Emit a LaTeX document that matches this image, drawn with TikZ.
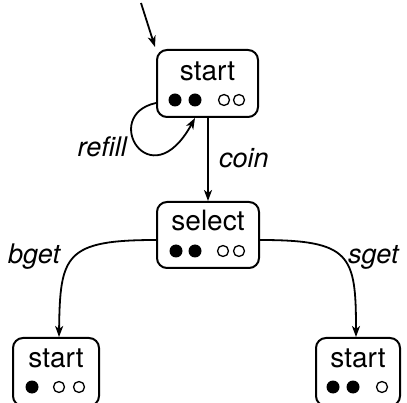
\documentclass[tikz,border=0pt]{standalone}
\usepackage{fontspec}
\setmainfont{TeX Gyre Heros}
\usetikzlibrary{arrows.meta}
\tikzset{
  statebox/.style={draw, line width=2pt, rounded corners=10pt, inner sep=0pt},
  statename/.style={inner sep=0pt, font=\fontsize{28}{30}\selectfont},
  edgelabel/.style={inner sep=0pt, font=\fontsize{27}{30}\selectfont\itshape},
  trans/.style={line width=1.8pt, -{Stealth[length=11pt,width=8pt,inset=3pt]}},
  full/.style={fill=black},
  empty/.style={draw=black, line width=1.3pt},
}
\begin{document}
\begin{tikzpicture}[x=1pt,y=-1pt]
\useasboundingbox (0,0) rectangle (407,403);

% states
\node[statebox, minimum width=101pt, minimum height=67pt] (s0) at (207.5,83.5) {};
\node[statename] (s0t) at (207.5,71) {start};
\node[statebox, minimum width=102pt, minimum height=66pt] (s1) at (208,235) {};
\node[statename] (s1t) at (208,221) {select};
\node[statebox, minimum width=86pt, minimum height=68pt] (s2) at (56,372) {};
\node[statename] (s2t) at (56,358) {start};
\node[statebox, minimum width=84pt, minimum height=68pt] (s3) at (358,372) {};
\node[statename] (s3t) at (358,358) {start};

% tokens
\fill[full] (175,100) circle (6.5pt) (195,100) circle (6.5pt);
\draw[empty] (224,100) circle (5.5pt) (239,100) circle (5.5pt);
\fill[full] (176,251) circle (6.5pt) (195,251) circle (6.5pt);
\draw[empty] (223,251) circle (5.5pt) (239,251) circle (5.5pt);
\fill[full] (32,387) circle (6.5pt);
\draw[empty] (59,387) circle (5.5pt) (79,387) circle (5.5pt);
\fill[full] (333,387) circle (6.5pt) (353,387) circle (6.5pt);
\draw[empty] (382,387) circle (5.5pt);

% transitions
\coordinate (init) at (141,3);
\coordinate (inittip) at (155,47);
\draw[trans] (init) -- (inittip);
\draw[trans] (s0.west |- 0,103) .. controls (100,115) and (150,200) .. (s0.south -| 195,0);
\draw[trans] (s0.south -| 208,0) -- (s1.north -| 208,0);
\draw[trans] (s1.west |- 0,240) .. controls (65,240) and (60,255) .. (s2.north -| 59,0);
\draw[trans] (s1.east |- 0,240) .. controls (351,240) and (356,255) .. (s3.north -| 356,0);

% labels
\node[edgelabel, anchor=east] (lrefill) at (127,147) {refill};
\node[edgelabel, anchor=west] (lcoin) at (219,158) {coin};
\node[edgelabel, anchor=west] (lbget) at (8,257) {bget};
\node[edgelabel, anchor=west] (lsget) at (348,257) {sget};
\end{tikzpicture}
\end{document}
